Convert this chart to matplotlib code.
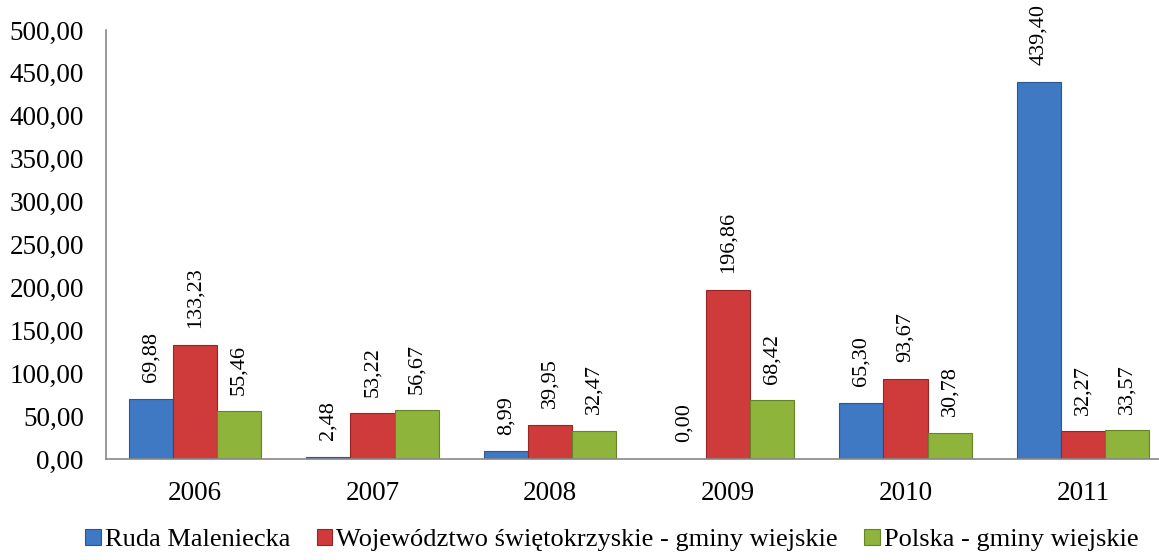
import numpy as np
import matplotlib.pyplot as plt

# categories and series
years = ['2006', '2007', '2008', '2009', '2010', '2011']
ruda = [69.88, 2.48, 8.99, 0.00, 65.30, 439.40]
woj = [133.23, 53.22, 39.95, 196.86, 93.67, 32.27]
polska = [55.46, 56.67, 32.47, 68.42, 30.78, 33.57]

names = ['Ruda Maleniecka', 'Województwo świętokrzyskie - gminy wiejskie', 'Polska - gminy wiejskie']
colors = ['#3f78c3', '#cf3a3a', '#8fb43c']
edges = ['#2b5691', '#962626', '#66832a']

plt.rcParams['font.family'] = ['Liberation Serif', 'DejaVu Serif']

fig = plt.figure(figsize=(11.59, 5.6), dpi=100)
ax = fig.add_axes([106 / 1159, 1 - 459 / 560, 1066 / 1159, 429 / 560])

x = np.arange(len(years))
w = 0.248
for i, (vals, c, e, n) in enumerate(zip([ruda, woj, polska], colors, edges, names)):
    pos = x + (i - 1) * w
    bars = ax.bar(pos, vals, w, color=c, edgecolor=e, linewidth=0.8, label=n, zorder=2)
    for b, v in zip(bars, vals):
        ax.annotate(f'{v:.2f}'.replace('.', ','), (b.get_x() + b.get_width() / 2, v),
                    xytext=(0, 12), textcoords='offset points', rotation=90,
                    ha='center', va='bottom', fontsize=16)

ax.set_xlim(-0.5, 5.5)
ax.set_ylim(0, 500)
ax.set_yticks(np.arange(0, 501, 50))
ax.set_yticklabels([f'{t:.2f}'.replace('.', ',') for t in np.arange(0, 501, 50)])
ax.set_xticks(x)
ax.set_xticklabels(years)
ax.tick_params(axis='both', length=0, labelsize=19.5)
ax.tick_params(axis='x', pad=16)
ax.tick_params(axis='y', pad=16)
for s in ['top', 'right']:
    ax.spines[s].set_visible(False)
for s in ['left', 'bottom']:
    ax.spines[s].set_color('#888888')
    ax.spines[s].set_linewidth(1.2)

fig.legend(loc='center', bbox_to_anchor=(612 / 1159, 1 - 540 / 560), ncol=3, frameon=False,
           fontsize=19, handlelength=0.6, handleheight=0.6, handletextpad=0.15,
           columnspacing=1.0)

fig.savefig('out.png', dpi=100)
